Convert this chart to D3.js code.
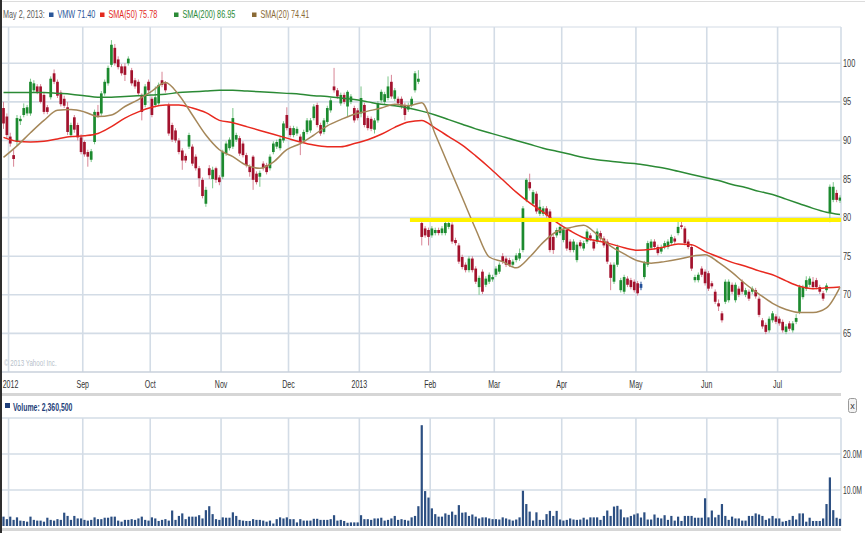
<!DOCTYPE html>
<html>
<head>
<meta charset="utf-8">
<script src="https://cdn.jsdelivr.net/npm/d3@7"></script>
<style>
  html, body { margin: 0; padding: 0; background: #fff; }
  svg { display: block; }
  text { font-family: "Liberation Sans", Arial, sans-serif; }
</style>
</head>
<body>
<svg id="chart" width="865" height="533"></svg>
<script>
// ---- VMW daily prices, 30 Jul 2012 – 26 Jul 2013: [open, high, low, close] ----
const bars = [
  [94.2,95.0,91.5,92.2],[93.1,93.5,90.2,90.7],[90.5,91.0,89.2,89.6],[88.1,88.8,86.6,87.6],[89.8,93.3,89.3,92.9],
  [92.5,93.2,92.0,92.8],[93.3,94.8,93.0,94.2],[93.5,94.6,93.2,94.3],[93.5,98.0,93.2,97.6],[96.5,97.8,96.2,97.4],
  [97.0,97.3,96.0,96.3],[97.0,97.3,94.8,95.0],[95.9,96.2,93.4,93.7],[94.3,94.6,93.4,93.7],[95.6,98.3,95.3,98.0],
  [98.7,99.2,97.3,97.6],[97.6,97.9,95.5,95.8],[96.2,96.5,94.4,94.7],[95.4,95.8,94.2,94.5],[94.3,95.0,90.7,91.1],
  [90.7,92.3,90.4,92.0],[93.0,93.3,91.0,91.4],[92.0,92.3,90.0,90.4],[90.4,90.8,88.2,88.5],[89.8,90.0,87.9,88.2],
  // Sep
  [88.5,88.8,86.6,87.9],[87.5,88.9,87.2,88.6],[89.8,94.0,89.5,93.7],[93.7,94.6,92.9,93.2],[93.5,96.4,93.2,96.1],
  [96.1,97.9,95.8,97.6],[97.4,99.7,97.1,99.4],[99.8,103.0,99.5,102.4],[102.0,102.5,99.7,100.0],[100.5,100.9,99.2,99.5],
  [99.6,99.9,98.4,98.7],[99.6,100.0,97.7,98.5],[100.0,100.9,99.7,100.6],[99.1,99.4,97.1,97.4],[97.8,98.1,96.7,97.0],
  [97.6,97.9,95.8,96.1],[95.9,96.1,92.6,93.7],[94.6,97.3,94.3,97.0],[97.6,97.9,96.2,96.5],
  // Oct
  [95.4,95.7,93.0,93.3],[94.6,97.0,94.3,95.6],[94.8,97.5,94.5,97.2],[97.8,98.9,96.9,97.2],[97.4,97.7,96.2,96.5],
  [94.6,94.9,90.6,90.9],[92.0,92.3,89.8,90.1],[91.3,91.6,89.7,90.0],[90.0,90.3,88.2,88.5],[88.7,89.0,86.2,87.4],
  [88.0,88.3,87.1,87.4],[89.2,91.0,88.9,90.7],[89.2,89.5,86.7,87.0],[87.9,88.2,86.1,86.4],[86.4,86.7,84.0,85.1],
  [84.9,85.2,82.5,82.8],[81.8,84.0,81.4,83.6],[86.4,86.8,85.0,85.5],[85.0,86.6,83.8,86.2],[86.4,86.6,84.5,84.9],
  [85.2,85.5,84.2,84.6],
  // Nov
  [85.3,88.8,85.0,88.5],[88.3,89.9,88.0,89.6],[89.0,90.4,88.7,90.1],[89.2,94.2,88.9,92.9],[90.1,91.0,89.8,90.7],
  [90.3,90.6,88.0,88.3],[89.6,89.9,87.8,88.1],[88.1,88.4,86.5,86.8],[86.6,86.9,85.3,85.9],[87.9,88.1,83.6,84.9],
  [85.7,86.0,84.3,84.6],[85.3,86.1,84.0,85.8],[87.0,87.3,86.1,86.4],[86.8,87.1,85.6,85.9],[86.4,88.2,86.1,87.9],
  [88.5,89.9,88.2,89.6],[89.2,90.1,88.9,89.8],[89.0,90.5,88.7,90.2],[90.0,92.5,89.7,92.2],[93.3,94.3,91.3,91.6],
  [91.6,91.9,90.4,90.7],
  // Dec
  [90.7,91.9,90.4,91.6],[90.9,91.8,90.6,91.5],[90.5,90.8,88.1,89.8],[90.0,91.4,89.7,91.1],[91.1,92.9,90.8,92.6],
  [91.3,92.9,91.0,92.6],[92.9,94.7,92.6,94.4],[94.6,94.9,91.7,92.0],[92.0,92.3,90.6,90.9],[91.1,92.9,90.8,92.6],
  [92.4,94.5,92.1,94.2],[93.9,95.5,93.6,95.2],[97.0,99.4,96.2,96.5],[96.5,96.8,95.4,95.7],[94.8,96.2,94.5,95.9],
  [95.9,96.2,94.7,95.0],[94.4,96.5,93.1,96.3],[95.0,96.0,94.7,95.7],[94.2,94.5,92.3,92.6],[93.9,94.2,92.6,92.9],
  // Jan
  [93.5,97.0,93.0,95.5],[94.6,94.9,91.7,92.0],[92.9,93.2,91.3,91.6],[92.8,93.1,91.2,91.5],[91.4,92.9,90.9,92.6],
  [92.6,95.1,92.3,94.8],[95.2,96.6,94.9,96.3],[95.0,96.3,94.7,96.0],[95.5,98.3,95.2,97.0],[97.6,98.5,95.4,95.7],
  [95.4,96.8,95.1,96.5],[95.4,95.7,94.5,94.8],[95.4,95.7,94.1,94.4],[94.6,94.9,92.6,93.3],[94.0,94.9,93.7,94.6],
  [94.6,95.7,94.3,95.4],[96.5,99.0,96.2,98.7],[97.6,99.1,97.3,98.0],[79.3,79.5,76.4,77.5],[78.6,78.9,77.4,77.7],
  [78.4,78.7,76.4,77.5],
  // Feb
  [77.7,78.9,77.4,78.6],[78.0,78.7,77.7,78.4],[78.4,78.7,77.7,78.0],[78.0,78.9,77.7,78.6],[78.0,79.6,77.7,79.3],
  [78.8,79.6,78.5,79.3],[79.1,79.4,76.6,76.9],[77.1,77.4,76.4,76.7],[76.4,76.7,74.0,74.3],[74.9,75.2,73.3,73.6],
  [73.9,74.2,72.9,73.2],[73.2,75.0,72.9,74.7],[74.7,75.0,72.9,73.2],[73.4,73.7,71.4,71.7],[71.0,72.5,70.0,72.2],
  [73.0,73.3,70.1,70.4],[71.3,72.4,71.0,72.1],[71.7,72.9,71.4,72.6],[72.0,72.6,71.7,72.3],
  // Mar
  [72.6,73.7,72.3,73.4],[73.0,74.2,72.7,73.9],[75.0,75.4,74.0,74.3],[74.7,75.0,73.6,73.9],[74.5,74.8,73.6,73.9],
  [73.9,74.6,73.6,74.3],[74.5,75.4,74.2,75.1],[74.7,76.0,74.4,75.4],[75.8,81.5,75.5,81.2],[82.3,85.1,82.0,84.9],
  [84.6,85.7,83.5,83.8],[81.8,83.6,81.5,83.3],[83.1,83.4,80.5,80.8],[80.5,82.3,80.2,81.4],[80.5,81.5,80.2,81.2],
  [81.2,81.5,80.0,80.3],[80.8,81.1,75.5,75.8],[77.5,77.8,75.3,75.8],[77.7,78.7,77.4,78.4],[78.0,79.1,77.7,78.8],
  // Apr
  [77.1,78.7,76.8,78.4],[78.4,78.7,75.7,76.0],[76.9,77.2,75.5,75.8],[75.8,77.2,75.5,76.9],[74.5,76.8,74.2,76.5],
  [76.8,77.1,76.0,76.3],[76.0,77.0,75.7,76.7],[76.9,78.5,76.6,78.2],[77.7,78.0,77.0,77.3],[76.9,77.2,75.7,76.0],
  [76.9,78.6,76.6,78.2],[78.0,78.3,77.0,77.3],[77.3,77.6,76.1,76.4],[76.9,77.2,74.0,74.3],[73.9,74.2,70.6,72.2],
  [71.7,74.2,71.4,73.9],[73.9,76.5,73.6,76.2],[70.6,72.2,70.3,71.9],[70.4,72.6,70.1,72.3],[72.1,72.4,71.0,71.3],
  [71.9,72.2,70.7,71.0],[71.7,72.0,70.3,70.6],
  // May
  [71.5,71.8,69.9,70.2],[70.9,71.7,70.6,71.4],[72.3,74.4,72.0,74.1],[73.9,77.0,73.6,76.7],[76.1,77.2,75.8,76.9],
  [76.9,77.2,75.9,76.2],[76.2,76.5,75.1,75.4],[75.6,76.5,75.3,76.2],[76.2,77.0,75.9,76.7],[76.2,77.2,75.9,76.9],
  [76.7,77.8,76.4,77.5],[77.3,77.6,76.6,76.9],[78.0,79.5,77.7,78.8],[79.0,79.5,78.5,78.8],[78.6,78.9,76.4,76.7],
  [76.9,77.2,75.9,76.2],[76.2,76.5,73.1,73.4],[71.9,72.6,71.6,72.3],[71.9,72.9,71.6,72.6],[73.4,73.7,72.3,72.6],
  [73.0,73.3,71.2,71.5],[72.8,73.1,70.5,70.8],
  // Jun
  [71.5,71.8,70.8,71.1],[70.4,70.7,68.8,69.1],[68.9,69.4,67.9,68.5],[67.6,67.9,66.4,66.7],[69.1,72.0,68.8,71.7],
  [69.3,72.0,69.0,71.7],[71.3,71.6,70.1,70.4],[69.3,71.6,69.0,71.3],[70.8,71.1,69.7,70.0],[71.7,72.0,70.1,70.4],
  [70.0,70.9,69.7,70.6],[70.4,70.7,69.2,69.5],[70.4,71.1,70.1,70.8],[70.6,70.9,69.5,69.8],[69.5,69.8,67.1,67.4],
  [66.7,67.0,65.6,65.9],[66.1,66.4,64.9,65.2],[65.4,67.2,65.1,66.9],[66.7,67.9,66.4,67.6],[67.2,67.5,66.2,66.5],
  // Jul
  [66.9,67.2,66.0,66.3],[66.5,66.8,65.1,65.4],[65.2,66.2,64.9,65.9],[66.3,66.6,65.3,65.6],[65.4,66.6,65.1,66.3],
  [66.5,67.5,66.2,67.0],[67.8,71.3,67.5,71.0],[69.7,71.3,69.4,71.0],[70.8,72.4,70.5,71.9],[71.3,72.4,71.0,72.1],
  [71.7,72.3,70.7,71.0],[71.9,72.2,70.7,71.0],[71.0,71.3,70.1,70.4],[70.2,70.5,69.2,69.5],[70.6,71.5,70.3,71.2],
  [80.6,84.3,79.4,84.0],[82.3,84.6,82.0,84.0],[83.2,83.6,82.0,82.3],[82.2,82.9,81.9,82.6]
];

// Daily volume, millions of shares
const volume = [
  2.6,1.9,2.6,1.7,2.4,1.5,1.4,1.2,2.6,1.7,1.5,1.5,1.2,2.3,1.7,1.5,1.9,1.7,3.7,2.8,1.7,2.8,2.1,2.1,1.7,
  1.5,1.7,2.4,1.9,1.9,2.3,2.3,2.6,2.6,1.5,1.2,1.7,1.7,1.9,1.7,2.1,2.6,1.7,1.5,
  2.4,2.1,1.4,1.7,1.9,1.5,4.3,1.7,2.8,3.5,1.9,2.6,2.6,2.6,3.0,2.1,4.4,5.5,3.3,1.9,1.7,
  2.4,2.3,2.3,3.8,2.8,1.7,1.5,1.4,1.4,1.9,1.7,1.7,1.5,1.2,1.5,0.7,1.9,2.4,2.1,2.4,1.9,
  1.9,1.0,1.9,1.5,1.5,1.5,2.0,2.0,1.7,1.7,1.7,1.9,3.0,1.5,1.7,1.4,0.9,1.0,1.0,1.0,
  3.0,1.9,1.9,1.7,2.1,2.1,2.3,1.5,1.7,2.1,2.8,1.7,1.9,1.7,1.5,2.4,2.8,5.5,28.0,9.7,7.9,
  4.9,3.3,2.6,2.6,3.5,3.1,4.0,3.1,5.8,3.7,3.8,2.8,3.2,2.6,2.1,2.4,2.4,2.1,1.9,
  1.9,1.8,2.4,2.1,1.8,1.5,1.8,2.4,9.8,6.1,4.0,1.5,3.8,1.7,1.7,3.3,4.2,2.8,4.2,1.8,
  1.5,1.7,2.1,1.8,1.7,1.8,2.3,1.8,2.4,2.4,2.4,1.7,2.8,4.3,2.8,5.4,5.6,4.6,2.4,2.4,2.8,3.2,
  3.5,2.3605,3.8,1.8,1.8,3.2,2.3,2.1,3.0,1.7,2.8,1.5,2.6,1.4,2.8,2.8,2.8,2.3,2.3,2.3,7.7,2.4,
  4.3,2.4,3.1,6.1,2.8,1.7,2.6,2.1,2.1,1.5,1.5,2.8,2.8,3.5,3.2,2.8,1.7,2.1,2.8,2.1,
  2.1,1.2,1.4,1.7,2.8,1.8,3.5,3.5,1.2,2.3,1.4,1.4,1.4,2.1,6.1,13.5,4.4,2.3,2.0
];

// Moving averages, one value every 4 trading days (day 0, 4, 8, ... 248)
const smaStep = 4;
const sma200 = [
  96.2,96.2,96.2,96.2,96.1,96.0,95.8,95.6,95.6,95.7,95.8,95.9,96.0,96.2,96.3,96.4,
  96.5,96.5,96.4,96.3,96.2,96.1,96.0,95.8,95.7,95.5,95.3,95.0,94.7,94.5,94.2,93.8,
  93.3,92.7,92.1,91.5,91.0,90.5,90.0,89.5,89.0,88.6,88.2,87.8,87.5,87.3,87.1,86.95,
  86.7,86.4,86.0,85.6,85.2,84.8,84.3,83.9,83.4,83.0,82.4,81.8,81.2,80.7,80.4
];
const sma50 = [
  90.4,89.9,89.8,89.9,90.2,90.5,90.6,90.9,91.8,92.9,93.7,94.3,94.6,94.6,94.2,93.6,
  92.6,92.3,91.8,91.3,90.8,90.3,89.8,89.4,89.2,89.2,89.6,90.1,90.8,91.7,92.4,92.6,
  91.6,90.5,89.4,88.0,86.5,84.9,83.3,81.9,80.7,79.4,78.3,77.4,77.0,76.6,76.1,75.78,
  75.9,76.2,76.6,76.5,75.6,74.9,74.2,73.7,73.1,72.6,71.8,71.1,70.8,70.9,71.0
];
const sma20 = [
  87.8,89.3,91.0,92.6,93.9,94.0,93.7,93.1,93.3,94.4,95.3,96.4,97.5,95.9,93.3,90.7,
  88.8,87.9,86.8,86.4,87.2,88.8,89.6,90.7,91.9,92.7,93.4,93.8,94.2,94.7,94.5,94.9,
  90.8,86.7,82.6,78.5,74.9,74.3,73.5,74.9,76.8,78.2,78.7,79.0,77.8,76.3,75.3,74.41,
  74.1,74.3,74.6,75.0,75.2,74.2,72.9,71.4,70.1,68.9,68.1,67.7,67.7,68.3,71.0
];

// Month labels and the trading-day index each month begins on
const monthLabels = ["2012","Sep","Oct","Nov","Dec","2013","Feb","Mar","Apr","May","Jun","Jul"];
const monthStart  = [2, 24, 44, 65, 85, 106, 127, 146, 166, 188, 209, 230];

const priceTicks  = [65, 70, 75, 80, 85, 90, 95, 100];
const volumeTicks = [10, 20];

// Horizontal support line drawn on the price panel
const supportLevel = 79.7;
const supportFrom  = 120.5;

// Day shown in the header readout
const focusDay   = 189;
const focusLabel = "May 2, 2013:";
const smaReadout = { sma50: 75.78, sma200: 86.95, sma20: 74.41 };

// ---------------- drawing ----------------
const svg = d3.select("#chart");
const plotL = 2, plotR = 841;
const priceTop = 27, priceBottom = 372;
const volTop = 418, volBottom = 526;

const x  = d3.scaleLinear().domain([0, bars.length - 1]).range([3.5, 840]);
const yP = d3.scaleLinear().domain([60, 104.7]).range([priceBottom, priceTop]);
const yV = d3.scaleLinear().domain([0, 30]).range([volBottom, volTop]);

const gridColor = "#d3dce6";
const col = {
  up: "#1c8a2f", down: "#a3122d", upWick: "#7cc68a", downWick: "#d88596",
  focus: "#23509a", sma50: "#e8291f", sma200: "#2b8a35", sma20: "#a58759",
  vol: "#2c4f82", text: "#3c3c3c"
};

// condensed label: text squeezed horizontally around its anchor point
function narrow(parent, px, py, str, size, sx, opts = {}) {
  const t = parent.append("text")
    .attr("transform", `translate(${px},${py}) scale(${sx},1)`)
    .attr("font-size", size)
    .attr("fill", opts.fill || col.text)
    .attr("text-anchor", opts.anchor || "start")
    .text(str);
  if (opts.weight) t.attr("font-weight", opts.weight);
  return t;
}

const defs = svg.append("defs");
defs.append("clipPath").attr("id", "clipPrice")
  .append("rect").attr("x", plotL).attr("y", priceTop).attr("width", plotR - plotL).attr("height", priceBottom - priceTop);
defs.append("clipPath").attr("id", "clipVol")
  .append("rect").attr("x", plotL).attr("y", volTop).attr("width", plotR - plotL).attr("height", volBottom - volTop);

// top frame line
svg.append("line").attr("x1", 0).attr("x2", 865).attr("y1", 1.5).attr("y2", 1.5)
  .attr("stroke", "#dcdcdc").attr("stroke-width", 1);

// ---- price panel grid ----
const gP = svg.append("g");
gP.selectAll("line.h").data(priceTicks).join("line")
  .attr("x1", plotL).attr("x2", plotR)
  .attr("y1", d => yP(d)).attr("y2", d => yP(d))
  .attr("stroke", gridColor).attr("stroke-width", 1.6);
gP.selectAll("line.v").data(monthStart).join("line")
  .attr("x1", d => x(d - 0.5)).attr("x2", d => x(d - 0.5))
  .attr("y1", priceTop).attr("y2", priceBottom)
  .attr("stroke", gridColor).attr("stroke-width", 1.6);
gP.append("line").attr("x1", plotL).attr("x2", plotR).attr("y1", priceTop).attr("y2", priceTop)
  .attr("stroke", gridColor).attr("stroke-width", 1.2);
gP.append("line").attr("x1", plotR).attr("x2", plotR).attr("y1", priceTop).attr("y2", priceBottom)
  .attr("stroke", gridColor).attr("stroke-width", 1.6);
gP.append("line").attr("x1", plotL).attr("x2", plotR).attr("y1", priceBottom).attr("y2", priceBottom)
  .attr("stroke", "#c9d1db").attr("stroke-width", 1.6);

// watermark
narrow(svg, 4, 366, "\u00A9 2013 Yahoo! Inc.", 8.5, 0.73, { fill: "#b7bfca" });

// right price axis
const gAx = svg.append("g");
priceTicks.forEach(t => narrow(gAx, 843, yP(t) + 3.5, String(t), 10, 0.74));

// month labels
const gM = svg.append("g");
monthLabels.forEach((m, i) =>
  narrow(gM, Math.max(10.5, x(monthStart[i] - 0.5)), 387.5, m, 11, 0.64, { anchor: "middle", fill: "#333" }));

// ---- candles ----
const gC = svg.append("g").attr("clip-path", "url(#clipPrice)");
const candle = gC.selectAll("g").data(bars).join("g");
const isUp = d => d[3] >= d[0];
const bodyColor = (d, i) => i === focusDay ? col.focus : (isUp(d) ? col.up : col.down);
const wickColor = (d, i) => i === focusDay ? col.focus : (isUp(d) ? col.upWick : col.downWick);
candle.append("line")
  .attr("x1", (d, i) => x(i)).attr("x2", (d, i) => x(i))
  .attr("y1", d => yP(Math.max(d[1], d[0], d[3])))
  .attr("y2", d => yP(Math.min(d[2], d[0], d[3])))
  .attr("stroke", wickColor).attr("stroke-width", 1);
candle.append("rect")
  .attr("x", (d, i) => x(i) - 1.35).attr("width", 2.7)
  .attr("y", d => yP(Math.max(d[0], d[3])))
  .attr("height", d => Math.max(1, Math.abs(yP(d[0]) - yP(d[3]))))
  .attr("fill", bodyColor);

// ---- moving averages ----
const smaLine = d3.line()
  .x((d, i) => x(i * smaStep))
  .y(d => yP(d))
  .curve(d3.curveMonotoneX);
const gS = svg.append("g").attr("clip-path", "url(#clipPrice)").attr("fill", "none");
gS.append("path").attr("d", smaLine(sma200)).attr("stroke", col.sma200).attr("stroke-width", 1.5);
gS.append("path").attr("d", smaLine(sma50)).attr("stroke", col.sma50).attr("stroke-width", 1.5);
gS.append("path").attr("d", smaLine(sma20)).attr("stroke", col.sma20).attr("stroke-width", 1.5);

// support line
gS.append("line")
  .attr("x1", x(supportFrom)).attr("x2", plotR)
  .attr("y1", yP(supportLevel)).attr("y2", yP(supportLevel))
  .attr("stroke", "#fff200").attr("stroke-width", 4);

// ---- header readout ----
const hdr = svg.append("g");
narrow(hdr, 3, 18, focusLabel, 10.5, 0.69, { fill: "#5a5a5a" });
const fb = bars[focusDay];
const legendItems = [
  { x: 49, color: "#2a5699", label: "VMW " + fb[3].toFixed(2) },
  { x: 100, color: "#e3291d", label: "SMA(50) " + smaReadout.sma50.toFixed(2) },
  { x: 174, color: "#2a8a36", label: "SMA(200) " + smaReadout.sma200.toFixed(2) },
  { x: 252, color: "#8a6a35", label: "SMA(20) " + smaReadout.sma20.toFixed(2) }
];
legendItems.forEach(it => {
  hdr.append("rect").attr("x", it.x).attr("y", 12.5).attr("width", 4.5).attr("height", 4.5).attr("fill", it.color);
  narrow(hdr, it.x + 8.5, 18, it.label, 10.5, 0.69, { fill: it.color });
});

// separators
svg.append("line").attr("x1", 0).attr("x2", plotR).attr("y1", 394.5).attr("y2", 394.5)
  .attr("stroke", "#d6d6d6").attr("stroke-width", 3);
svg.append("line").attr("x1", 0).attr("x2", plotR).attr("y1", 529.5).attr("y2", 529.5)
  .attr("stroke", "#d6d6d6").attr("stroke-width", 3);

// ---- volume panel ----
svg.append("rect").attr("x", 5).attr("y", 403).attr("width", 5).attr("height", 5).attr("fill", "#1f3f7a");
narrow(svg, 13, 410.5, "Volume: " + d3.format(",")(Math.round(volume[focusDay] * 1e6)), 10.5, 0.66,
  { fill: "#1f3f7a", weight: "bold" });

const gV = svg.append("g");
gV.selectAll("line.h").data(volumeTicks.concat([30])).join("line")
  .attr("x1", plotL).attr("x2", plotR)
  .attr("y1", d => yV(d)).attr("y2", d => yV(d))
  .attr("stroke", gridColor).attr("stroke-width", 1.6);
gV.selectAll("line.v").data(monthStart).join("line")
  .attr("x1", d => x(d - 0.5)).attr("x2", d => x(d - 0.5))
  .attr("y1", volTop).attr("y2", volBottom)
  .attr("stroke", gridColor).attr("stroke-width", 1.6);
gV.append("line").attr("x1", plotR).attr("x2", plotR).attr("y1", volTop).attr("y2", volBottom)
  .attr("stroke", gridColor).attr("stroke-width", 1.6);

svg.append("g").attr("clip-path", "url(#clipVol)")
  .selectAll("rect").data(volume).join("rect")
  .attr("x", (d, i) => x(i) - 1.1).attr("width", 2.2)
  .attr("y", d => yV(d)).attr("height", d => volBottom - yV(d))
  .attr("fill", col.vol);

const gVA = svg.append("g");
volumeTicks.forEach(t => narrow(gVA, 843, yV(t) + 3.5, t.toFixed(1) + "M", 10, 0.68));

// close button
const btn = svg.append("g");
btn.append("rect").attr("x", 848.5).attr("y", 398.5).attr("width", 8).attr("height", 14).attr("rx", 2)
  .attr("fill", "#f3f3f3").attr("stroke", "#9a9a9a");
btn.append("text").attr("x", 852.5).attr("y", 408.5).attr("text-anchor", "middle")
  .attr("font-size", 9).attr("fill", "#333").text("x");

// left edge
svg.append("rect").attr("x", 0).attr("y", 0).attr("width", 2).attr("height", 533).attr("fill", "#2e2e2e");
</script>
</body>
</html>
